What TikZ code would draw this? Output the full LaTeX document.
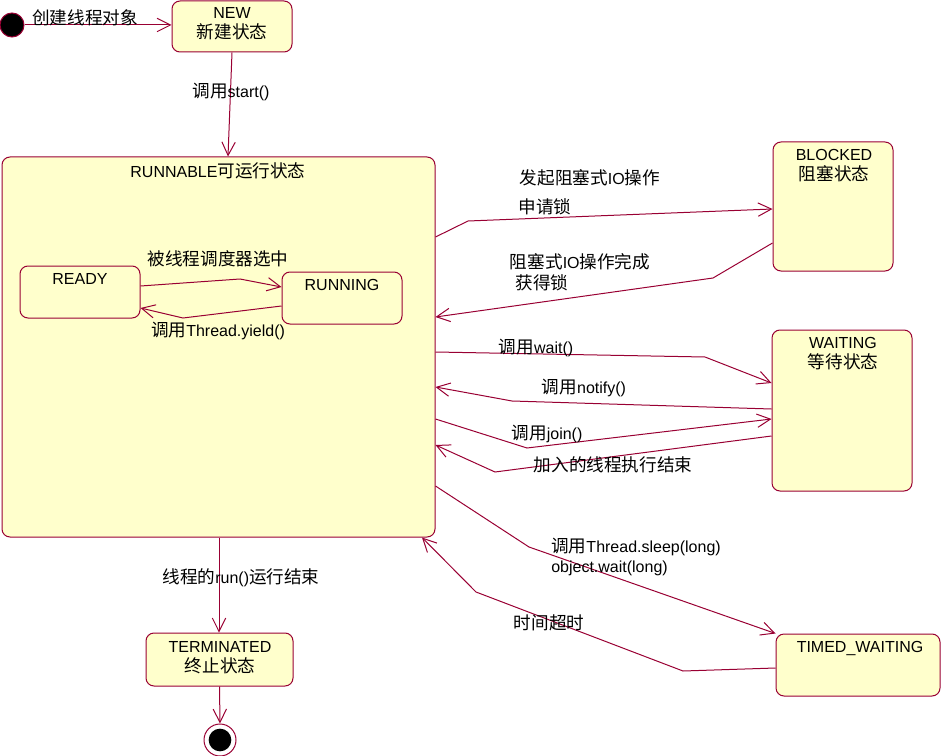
\documentclass[tikz,border=0pt]{standalone}
\usepackage{fontspec}
\setmainfont{Liberation Sans}
\newfontfamily\zh[Scale=1.1]{Noto Sans CJK SC}
\usetikzlibrary{arrows.meta,fit}
\definecolor{uml}{RGB}{153,0,51}
\definecolor{umlfill}{RGB}{255,255,204}
\begin{document}
\begin{tikzpicture}[x=0.75pt,y=-0.75pt,
  statebox/.style={draw=uml, fill=umlfill, rounded corners=6pt, line width=0.75pt, inner sep=0pt},
  lbl/.style={font=\fontsize{12pt}{15pt}\selectfont, inner sep=0pt, align=center},
  arr/.style={draw=uml, line width=0.75pt, -{Straight Barb[length=10pt,width=10pt]}}]
\useasboundingbox (0,0) rectangle (942,756);
% states
\node[statebox, fit={(172,1) (292,52)}] (new) {};
\node[lbl] (newt) at (232,24) {NEW\\{\zh 新建状态}};
\node[statebox, fit={(2,157) (435,537)}] (runnable) {};
\node[lbl] (runnablet) at (218,171) {RUNNABLE{\zh 可运行状态}};
\node[statebox, fit={(20,266) (140,318)}] (ready) {};
\node[lbl] (readyt) at (80,279) {READY};
\node[statebox, fit={(282,272) (402,324)}] (running) {};
\node[lbl] (runningt) at (342,285) {RUNNING};
\node[statebox, fit={(773,142) (893,271)}] (blocked) {};
\node[lbl] (blockedt) at (834,166) {BLOCKED\\{\zh 阻塞状态}};
\node[statebox, fit={(772,330) (912,491)}] (waiting) {};
\node[lbl] (waitingt) at (843,354) {WAITING\\{\zh 等待状态}};
\node[statebox, fit={(776,634) (940,696)}] (timed) {};
\node[lbl] (timedt) at (860,648) {TIMED\_WAITING};
\node[statebox, fit={(146,633) (293,686)}] (term) {};
\node[lbl] (termt) at (220,658) {TERMINATED\\{\zh 终止状态}};
% pseudo states
\node[circle, fill=black, draw=uml, line width=0.75pt, minimum size=18pt, inner sep=0pt] (start) at (12,25) {};
\node[circle, fill=white, draw=uml, line width=0.75pt, minimum size=24pt, inner sep=0pt] (end) at (220,740) {};
\node[circle, fill=black, minimum size=17pt, inner sep=0pt] (endin) at (220,740) {};
% transitions
\draw[arr] (start) -- (new.west |- start);
\node[lbl] (l1) at (85,18) {\zh 创建线程对象};
\draw[arr] (new.south) -- (runnable.north -| 228,0);
\node[lbl] (l2) at (231,92) {{\zh 调用}start()};
\draw[arr] (ready.east |- 0,286) -- (240,279) -- (running.west |- 0,287);
\node[lbl] (l3) at (218,259) {\zh 被线程调度器选中};
\draw[arr] (running.west |- 0,306) -- (183,318) -- (ready.east |- 0,308);
\node[lbl] (l4) at (218,331) {{\zh 调用}Thread.yield()};
\draw[arr] (runnable.east |- 0,237) -- (468,221) -- (blocked.west |- 0,209);
\node[lbl] (l5) at (590,178) {{\zh 发起阻塞式}IO{\zh 操作}};
\node[lbl] (l6) at (545,207) {\zh 申请锁};
\draw[arr] (blocked.west |- 0,243) -- (713,278) -- (runnable.east |- 0,317);
\node[lbl] (l7) at (580,262) {{\zh 阻塞式}IO{\zh 操作完成}};
\node[lbl] (l8) at (542,283) {\zh 获得锁};
\draw[arr] (runnable.east |- 0,352) -- (705,357) -- (waiting.west |- 0,383);
\node[lbl] (l9) at (536,348) {{\zh 调用}wait()};
\draw[arr] (waiting.west |- 0,409) -- (512,401) -- (runnable.east |- 0,387);
\node[lbl] (l10) at (584,388) {{\zh 调用}notify()};
\draw[arr] (runnable.east |- 0,419) -- (527,448) -- (waiting.west |- 0,419);
\node[lbl] (l11) at (547,434) {{\zh 调用}join()};
\draw[arr] (waiting.west |- 0,436) -- (495,472) -- (runnable.east |- 0,445);
\node[lbl] (l12) at (613,465) {\zh 加入的线程执行结束};
\draw[arr] (runnable.east |- 0,486) -- (529,547) -- (timed.north west);
\node[lbl, align=left, anchor=west] (l13) at (551,557) {{\zh 调用}Thread.sleep(long)\\object.wait(long)};
\draw[arr] (timed.west |- 0,668) -- (683,671) -- (476,592) -- (runnable.south -| 422,0);
\node[lbl] (l14) at (549,623) {\zh 时间超时};
\draw[arr] (runnable.south -| 219,0) -- (term.north -| 219,0);
\node[lbl] (l15) at (241,578) {{\zh 线程的}run(){\zh 运行结束}};
\draw[arr] (term.south) -- (end.north);
\end{tikzpicture}
\end{document}
